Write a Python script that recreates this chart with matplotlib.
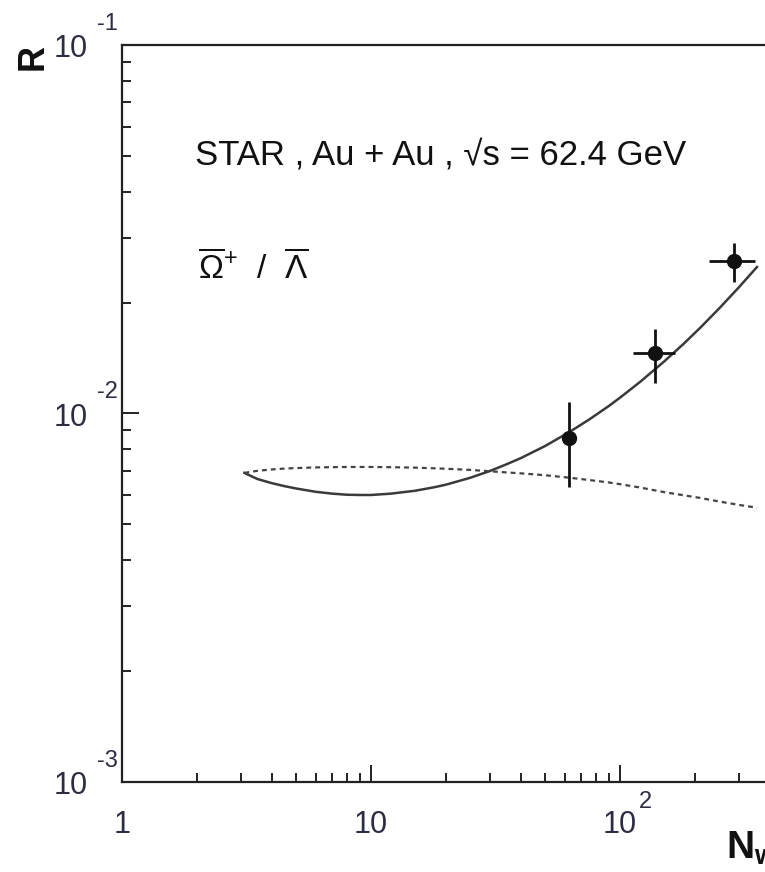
import numpy as np
import matplotlib.pyplot as plt
from matplotlib import transforms

plt.rcParams['font.family'] = ['Liberation Sans', 'DejaVu Sans']
plt.rcParams['mathtext.fontset'] = 'custom'
plt.rcParams['mathtext.rm'] = 'Liberation Sans'
plt.rcParams['mathtext.it'] = 'Liberation Sans:italic'
plt.rcParams['mathtext.bf'] = 'Liberation Sans:bold'

# STAR data points
npart      = [62.4, 138, 287]
npart_lo   = [62.4, 113, 228]
npart_hi   = [62.4, 166, 349]
ratio      = [0.00858, 0.0146, 0.0259]
ratio_lo   = [0.00632, 0.0121, 0.02275]
ratio_hi   = [0.01074, 0.01696, 0.0290]

# model curves
solid_x = [3.1, 3.5, 4, 4.5, 5, 6, 7, 8, 9, 10, 12, 15, 18, 20, 25, 30, 35,
           40, 50, 62, 75, 90, 100, 120, 150, 180, 210, 250, 300, 355]
solid_y = [0.0069, 0.00664, 0.00647, 0.00635, 0.00626, 0.00613, 0.00606,
           0.00602, 0.00601, 0.00601, 0.00606, 0.00617, 0.00631, 0.00641,
           0.00669, 0.00698, 0.00728, 0.00757, 0.00816, 0.00887, 0.00962,
           0.01047, 0.01104, 0.01216, 0.01382, 0.01545, 0.01709, 0.01927,
           0.02199, 0.02498]
dash_x  = [3.1, 3.5, 4, 4.5, 5, 6, 7, 8, 10, 12, 15, 18, 20, 25, 30, 35,
           40, 50, 62, 75, 90, 100, 120, 150, 180, 210, 250, 300, 355]
dash_y  = [0.0069, 0.00699, 0.00705, 0.00709, 0.00711, 0.00714, 0.00715,
           0.00716, 0.00716, 0.00715, 0.00713, 0.0071, 0.00708, 0.00703,
           0.00697, 0.00692, 0.00688, 0.0068, 0.0067, 0.0066, 0.0065,
           0.00643, 0.0063, 0.00612, 0.006, 0.0059, 0.00577, 0.00565, 0.00555]

W, H = 765, 872
fig = plt.figure(figsize=(W / 100, H / 100), dpi=100)
x0, y0, y1 = 122, 782, 45
dec = 249
ax = fig.add_axes([x0 / W, 1 - y0 / H, np.log10(400) * dec / W, (y0 - y1) / H])
ax.set_xscale('log')
ax.set_yscale('log')
ax.set_xlim(1, 400)
ax.set_ylim(1e-3, 1e-1)

ax.plot(solid_x, solid_y, color='#3a3a3a', lw=1.8)
ax.plot(dash_x, dash_y, color='#444444', lw=1.6, ls=(0, (2.2, 1.8)))

xerr = [np.array(npart) - np.array(npart_lo), np.array(npart_hi) - np.array(npart)]
yerr = [np.array(ratio) - np.array(ratio_lo), np.array(ratio_hi) - np.array(ratio)]
ax.errorbar(npart, ratio, xerr=xerr, yerr=yerr, fmt='o', color='#111111',
            ms=10, elinewidth=2, capsize=0)

for s in ax.spines.values():
    s.set_linewidth(1.6)
    s.set_color('#222222')
ax.tick_params(which='both', direction='in', top=False, right=False,
               width=1.4, color='#222222', labelbottom=False, labelleft=False)
ax.tick_params(which='major', length=12.5)
ax.tick_params(which='minor', length=6.5)

# tick labels in ROOT style (exponent raised)
lab_col = '#2c2c44'
ty = transforms.blended_transform_factory(fig.transFigure, ax.transData)
base = transforms.offset_copy(ty, fig=fig, x=0, y=-4, units='dots')
sup = transforms.offset_copy(ty, fig=fig, x=0, y=21, units='dots')
for val, exp in [(1e-1, '-1'), (1e-2, '-2'), (1e-3, '-3')]:
    ax.text(71 / W, val, '10', transform=base, ha='center', va='center',
            fontsize=22, color=lab_col)
    ax.text(107 / W, val, exp, transform=sup, ha='center', va='center',
            fontsize=17, color=lab_col)
tx = transforms.blended_transform_factory(ax.transData, fig.transFigure)
for val, lab in [(1, '1'), (10, '10'), (100, '10')]:
    ax.text(val, 1 - 825 / H, lab, transform=tx, ha='center', va='center',
            fontsize=22, color=lab_col)
ax.text(126, 1 - 802 / H, '2', transform=tx, ha='center', va='center',
        fontsize=17, color=lab_col)

fig.text(33 / W, 1 - 57 / H, 'R', rotation=90, ha='center', va='center',
         fontsize=26, fontweight='bold', color='#111111')
fig.text(726 / W, 1 - 848 / H, r'N$_{\mathbf{w}}$', ha='left', va='center',
         fontsize=28, fontweight='bold', color='#111111')

fig.text(195 / W, 1 - 155 / H, 'STAR , Au + Au , \u221as = 62.4 GeV',
         ha='left', va='center', fontsize=25, color='#111111')
fig.text(198 / W, 1 - 268 / H,
         r'$\overline{\Omega}^{+}$  /  $\overline{\Lambda}$',
         ha='left', va='center', fontsize=24, color='#111111')

fig.savefig('out.png', dpi=100)
